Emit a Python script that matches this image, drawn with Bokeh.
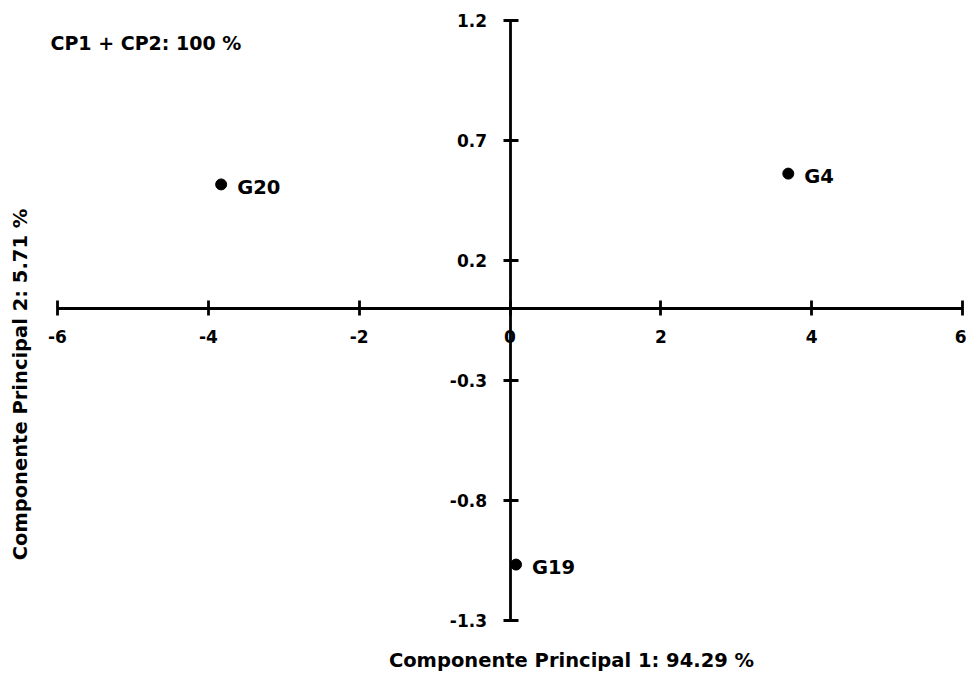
import math
from bokeh.plotting import figure
from bokeh.models import Range1d, FixedTicker, Label, ColumnDataSource
from bokeh.core.properties import value
from bokeh.embed import file_html
from bokeh.resources import INLINE

# data
names = ["G20", "G4", "G19"]
cp1 = [-3.83, 3.69, 0.08]
cp2 = [0.517, 0.562, -1.067]

x_ticks = [-6, -4, -2, 0, 2, 4, 6]
x_tick_labels = ["-6", "-4", "-2", "0", "2", "4", "6"]
y_ticks = [-1.3, -0.8, -0.3, 0.2, 0.7, 1.2]
y_tick_labels = ["-1.3", "-0.8", "-0.3", "0.2", "0.7", "1.2"]

x_title = "Componente Principal 1: 94.29 %"
y_title = "Componente Principal 2: 5.71 %"
note = "CP1 + CP2: 100 %"

FONT = "DejaVu Sans"

# layout (pixels)
W, H = 966, 674
X0_PX, X1_PX = 57, 962      # where x = -6 and x = 6 sit
Y1_PX, Y0_PX = 20, 620      # where y = 1.2 and y = -1.3 sit
xmin, xmax = x_ticks[0], x_ticks[-1]
ymin, ymax = y_ticks[0], y_ticks[-1]
sx = (X1_PX - X0_PX) / (xmax - xmin)
sy = (Y0_PX - Y1_PX) / (ymax - ymin)
x_range = Range1d(xmin - X0_PX / sx, xmax + (W - X1_PX) / sx)
y_range = Range1d(ymin - (H - Y0_PX) / sy, ymax + Y1_PX / sy)

p = figure(width=W, height=H, output_backend="svg", toolbar_location=None,
           x_range=x_range, y_range=y_range,
           min_border_left=0, min_border_right=0, min_border_top=0, min_border_bottom=0)
p.outline_line_color = None
p.xgrid.visible = False
p.ygrid.visible = False
p.background_fill_color = "white"
p.border_fill_color = "white"

for ax, ticks, labels in ((p.xaxis[0], x_ticks, x_tick_labels), (p.yaxis[0], y_ticks, y_tick_labels)):
    ax.fixed_location = 0
    ax.bounds = (ticks[0], ticks[-1])
    ax.ticker = FixedTicker(ticks=ticks)
    ax.major_label_overrides = {t: l for t, l in zip(ticks, labels)}
    ax.axis_line_color = "black"
    ax.axis_line_width = 2.8
    ax.major_tick_line_color = "black"
    ax.major_tick_line_width = 2.8
    ax.major_tick_in = 8
    ax.major_tick_out = 7
    ax.minor_tick_line_color = None
    ax.major_label_text_font = FONT
    ax.major_label_text_font_style = "bold"
    ax.major_label_text_font_size = "17px"
    ax.major_label_text_color = "black"

p.xaxis[0].major_label_standoff = 14
p.yaxis[0].major_label_standoff = 16

src = ColumnDataSource(dict(x=cp1, y=cp2, name=names))
p.scatter("x", "y", source=src, size=11, color="black")
p.text("x", "y", text="name", source=src, x_offset=16, y_offset=3,
       text_font=value(FONT), text_font_style="bold", text_font_size="19.5px",
       text_baseline="middle", text_align="left", text_color="black")

p.add_layout(Label(x=571, y=H - 660, x_units="screen", y_units="screen", text=x_title,
                   text_font=FONT, text_font_style="bold", text_font_size="19.5px",
                   text_align="center", text_baseline="middle", text_color="black"))
p.add_layout(Label(x=20, y=H - 384, x_units="screen", y_units="screen", text=y_title,
                   angle=math.pi / 2,
                   text_font=FONT, text_font_style="bold", text_font_size="19.5px",
                   text_align="center", text_baseline="middle", text_color="black"))
p.add_layout(Label(x=50, y=H - 42, x_units="screen", y_units="screen", text=note,
                   text_font=FONT, text_font_style="bold", text_font_size="19px",
                   text_align="left", text_baseline="middle", text_color="black"))

open("out.html", "w").write(file_html(p, INLINE))
